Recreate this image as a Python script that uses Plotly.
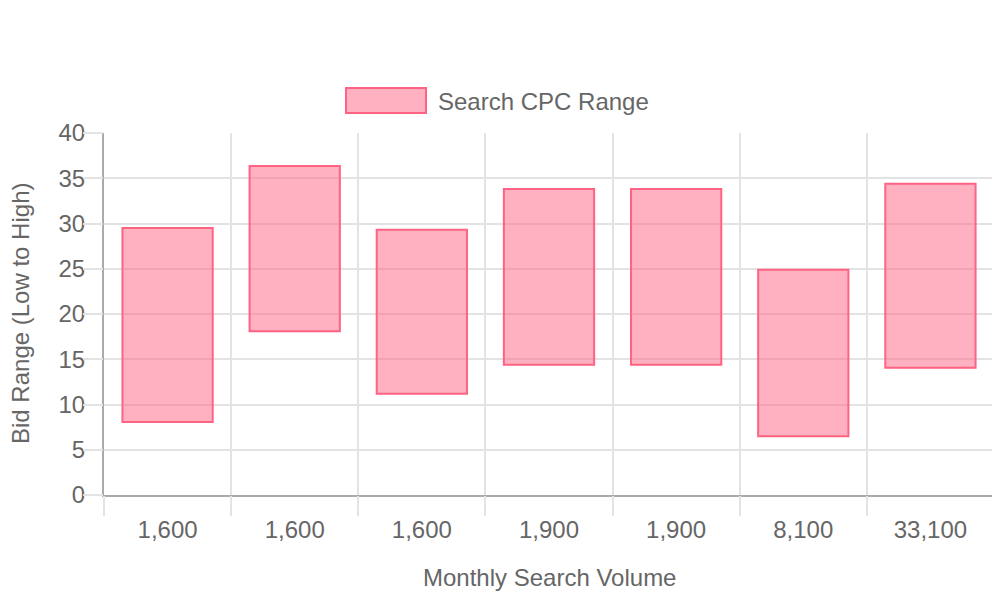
import plotly.graph_objects as go

volumes = ["1,600", "1,600", "1,600", "1,900", "1,900", "8,100", "33,100"]
cpc_low = [8.08, 18.1, 11.2, 14.4, 14.4, 6.5, 14.05]
cpc_high = [29.5, 36.35, 29.3, 33.8, 33.8, 24.9, 34.4]
series_name = "Search CPC Range"
y_ticks = [0, 5, 10, 15, 20, 25, 30, 35, 40]

FONT = "Liberation Sans, Arial, sans-serif"
TXT = "#666666"
GRID = "#e3e3e3"
LINE = "#aaaaaa"
FILL = "rgba(255,99,132,0.5)"
BORDER = "rgb(255,99,132)"

idx = list(range(len(volumes)))
fig = go.Figure()
fig.add_trace(go.Bar(
    x=idx,
    y=[h - l for h, l in zip(cpc_high, cpc_low)],
    base=cpc_low,
    width=0.71,
    marker=dict(color=FILL, line=dict(color=BORDER, width=2)),
    name=series_name,
    showlegend=False,
))
# invisible trace on overlay axes to activate them
fig.add_trace(go.Scatter(x=[-0.5, 6.5], y=[0, 0], xaxis="x2", yaxis="y2", mode="markers",
                         marker=dict(opacity=0), showlegend=False, hoverinfo="skip"))

boundaries = [i - 0.5 for i in range(len(volumes) + 1)]
fig.update_layout(
    width=992, height=592,
    margin=dict(l=96, r=6, t=125, b=105),
    paper_bgcolor="white", plot_bgcolor="white",
    font=dict(family=FONT, size=24, color=TXT),
    xaxis=dict(
        range=[-0.5, 6.5], tickvals=idx, ticktext=volumes,
        ticks="outside", ticklen=12, tickcolor="rgba(0,0,0,0)",
        showgrid=False, zeroline=False, showline=True, linecolor=LINE, linewidth=2,
        tickfont=dict(size=24, color=TXT),
    ),
    xaxis2=dict(
        range=[-0.5, 6.5], overlaying="x", side="bottom", anchor="y",
        tickvals=boundaries, showticklabels=False,
        ticks="outside", ticklen=20, tickcolor=GRID, tickwidth=1.5,
        showgrid=True, gridcolor=GRID, gridwidth=1.5, zeroline=False, showline=False,
    ),
    yaxis=dict(
        range=[0, 40], tickvals=y_ticks, ticks="outside", ticklen=12,
        tickcolor="rgba(0,0,0,0)", showgrid=True, gridcolor=GRID, gridwidth=1.5,
        zeroline=False, showline=True, linecolor=LINE, linewidth=2,
        tickfont=dict(size=24, color=TXT),
    ),
    yaxis2=dict(
        range=[0, 40], overlaying="y", side="left", anchor="x",
        tickvals=y_ticks, showticklabels=False,
        ticks="outside", ticklen=20, tickcolor=GRID, tickwidth=1.5,
        showgrid=False, zeroline=False, showline=False,
    ),
    showlegend=False,
)

# axis titles
fig.add_annotation(text="Monthly Search Volume", xref="paper", yref="paper",
                   x=0.5, y=0, yshift=-82, showarrow=False, yanchor="middle",
                   font=dict(size=24, color=TXT))
fig.add_annotation(text="Bid Range (Low to High)", xref="paper", yref="paper",
                   x=0, xshift=-84, y=0.5, textangle=-90, showarrow=False,
                   xanchor="center", yanchor="middle", font=dict(size=24, color=TXT))

# legend (box + label)
fig.add_shape(type="rect", xref="paper", yref="paper",
              x0=(346 - 104) / 890, x1=(426 - 104) / 890,
              y0=(495 - 113) / 362, y1=(495 - 88) / 362,
              fillcolor=FILL, line=dict(color=BORDER, width=2))
fig.add_annotation(text=series_name, xref="paper", yref="paper",
                   x=(436 - 104) / 890, y=(495 - 101) / 362, xanchor="left", yanchor="middle",
                   showarrow=False, font=dict(size=24, color=TXT))

fig.write_html("out.html")
